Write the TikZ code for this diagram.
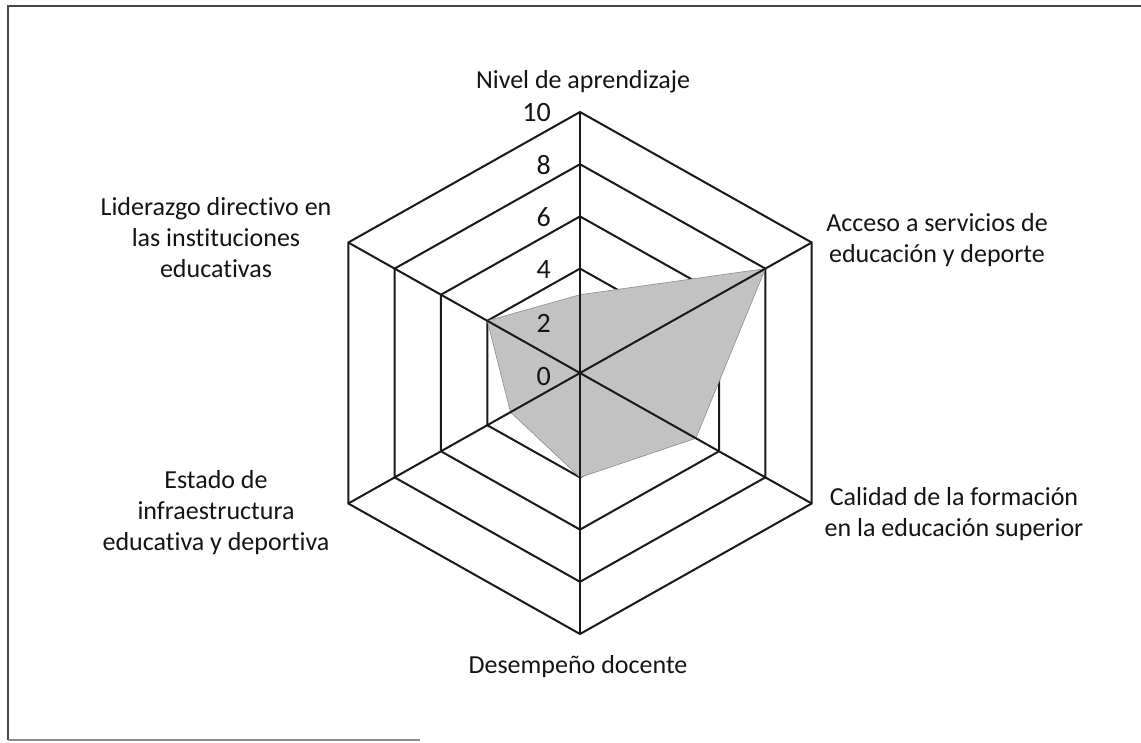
\documentclass[tikz,border=0pt]{standalone}
\usepackage{fontspec}
\setmainfont[Ligatures={NoCommon}]{Carlito}
\begin{document}
\begin{tikzpicture}[x=1pt,y=-1pt,
  lab/.style={font=\fontsize{26}{31}\selectfont, align=center, inner sep=0pt, text=black!92},
  num/.style={font=\fontsize{28}{30}\selectfont, anchor=east, inner sep=0pt, text=black!92},
  ring/.style={draw=black!90, line width=2pt, line join=miter},
  spoke/.style={draw=black!90, line width=2pt},
  area/.style={fill=black!24, draw=black!45, line width=0.6pt},
  frame/.style={draw=black!72, line width=2.4pt}]
\useasboundingbox (0,0) rectangle (1141,742);
% frame
\coordinate (ftr) at (1141,6);
\coordinate (ftl) at (8,6);
\coordinate (fbl) at (8,740);
\coordinate (fbr) at (420,740);
\draw[frame] (ftr) -- (ftl) -- (fbl);
\draw[draw=black!45, line width=1.6pt] (fbl) -- (fbr);
% chart
\begin{scope}[shift={(580,373)}, xscale=1.025]
\def\u{26.1}
\coordinate (C) at (0,0);
% rings
\foreach \v in {4,6,8,10}{
  \draw[ring] (-90:\v*\u) -- (-30:\v*\u) -- (30:\v*\u)
     -- (90:\v*\u) -- (150:\v*\u) -- (210:\v*\u) -- cycle;
}
% data polygon
\coordinate (dN) at (-90:3*\u);
\coordinate (dA) at (-30:8*\u);
\coordinate (dCa) at (30:5*\u);
\coordinate (dD) at (90:4*\u);
\coordinate (dE) at (150:3*\u);
\coordinate (dL) at (210:4*\u);
\filldraw[area] (dN) -- (dA) -- (dCa) -- (dD) -- (dE) -- (dL) -- cycle;
% spokes
\coordinate (aN) at (-90:10*\u);
\coordinate (aA) at (-30:10*\u);
\coordinate (aCa) at (30:10*\u);
\coordinate (aD) at (90:10*\u);
\coordinate (aE) at (150:10*\u);
\coordinate (aL) at (210:10*\u);
\draw[spoke] (aN) -- (aD);
\draw[spoke] (aA) -- (aE);
\draw[spoke] (aCa) -- (aL);
\end{scope}
% scale numbers
\node[num] (n10) at (551,113) {10};
\node[num] (n8) at (551,165) {8};
\node[num] (n6) at (551,217) {6};
\node[num] (n4) at (551,270) {4};
\node[num] (n2) at (551,323) {2};
\node[num] (n0) at (551,377) {0};
% category labels
\node[lab] (lnivel) at (583,82) {Nivel de aprendizaje};
\node[lab] (lacceso) at (937,240) {Acceso a servicios de\\educación y deporte};
\node[lab] (lcalidad) at (954,514) {Calidad de la formación\\en la educación superior};
\node[lab] (ldesemp) at (578,667) {Desempeño docente};
\node[lab] (lestado) at (216,513) {Estado de\\infraestructura\\educativa y deportiva};
\node[lab] (llider) at (216,238) {Liderazgo directivo en\\las instituciones\\educativas};
\end{tikzpicture}
\end{document}
